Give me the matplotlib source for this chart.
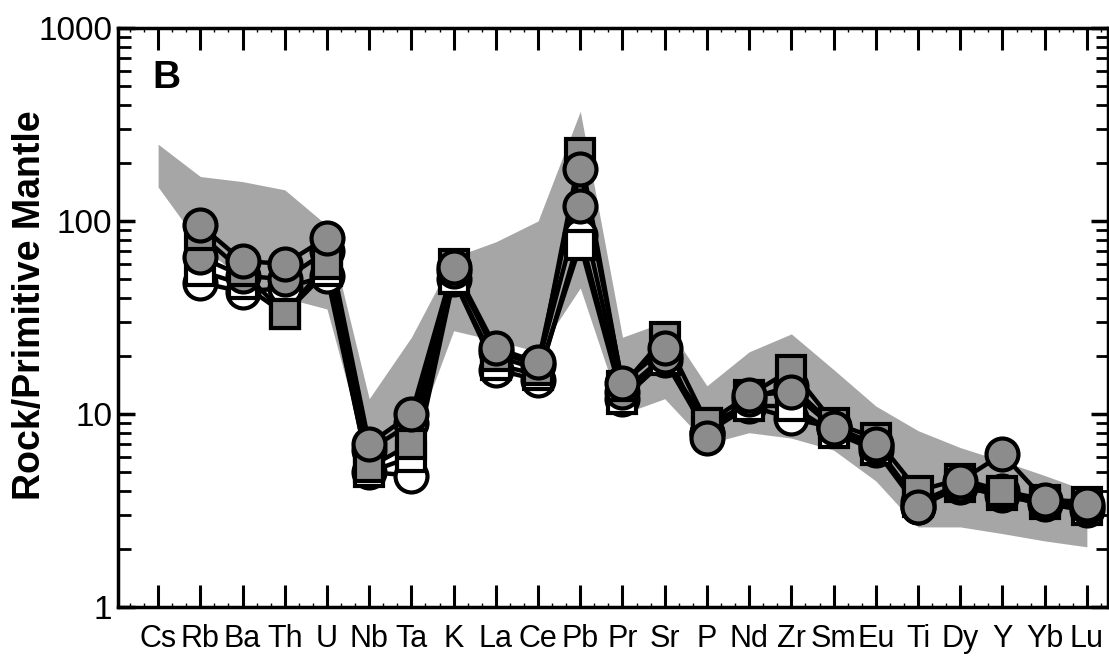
import numpy as np
import matplotlib
matplotlib.use("Agg")
import matplotlib.pyplot as plt
from matplotlib import font_manager
from matplotlib.ticker import FixedLocator, LogLocator, NullFormatter, FuncFormatter

elements = ["Cs", "Rb", "Ba", "Th", "U", "Nb", "Ta", "K", "La", "Ce", "Pb", "Pr",
            "Sr", "P", "Nd", "Zr", "Sm", "Eu", "Ti", "Dy", "Y", "Yb", "Lu"]

band_upper = [250, 170, 160, 145, 95, 12, 25, 65, 78, 100, 370, 25,
              30, 14, 21, 26, 17, 11, 8.2, 6.7, 5.7, 4.8, 4.0]
band_lower = [150, 75, 50, 40, 35, 5.5, 7, 27, 24, 21, 45, 10,
              12, 7, 8, 7.5, 6.5, 4.5, 2.6, 2.6, 2.4, 2.2, 2.05]

# samples (no Cs value)
s_filled_hi = [np.nan, 95, 62, 60, 82, 7.0, 10, 58, 22, 18.5, 185, 14.5,
               22, 7.5, 12.5, 13, 8.5, 7.0, 3.3, 4.5, 6.2, 3.6, 3.4]
s_square = [np.nan, 85, 55, 33, 60, 5.3, 7, 60, 20, 17, 225, 14,
            25, 9, 12.5, 17, 9, 7.5, 4.0, 4.6, 4.0, 3.6, 3.5]
s_filled_mid = [np.nan, 65, 52, 50, 70, 6.5, 9, 55, 21, 18, 120, 13,
                20, 8, 12, 14, 8.7, 6.8, 3.5, 4.3, 4.0, 3.5, 3.3]
s_open_sq = [np.nan, 55, 47, 33, 55, 5.0, 6, 50, 18, 16, 75, 12,
             19, 9, 11, 11, 8, 6.5, 3.5, 4.2, 3.8, 3.4, 3.2]
s_open = [np.nan, 48, 43, 45, 52, 5.0, 4.8, 50, 17, 15, 85, 12,
          19, 8, 11, 9.5, 8.5, 6.5, 3.3, 4.2, 3.8, 3.4, 3.2]

def has_font(name):
    try:
        font_manager.findfont(name, fallback_to_default=False)
        return True
    except Exception:
        return False

base = "Liberation Sans" if has_font("Liberation Sans") else "DejaVu Sans"

fig = plt.figure(figsize=(11.09, 6.61), dpi=100)
ax = fig.add_axes([118 / 1109, 1 - 607 / 661, (1108 - 118) / 1109, (607 - 28) / 661])

x = np.arange(len(elements))
ax.fill_between(x, band_lower, band_upper, color="#a6a6a6", lw=0, zorder=1)

line_kw = dict(color="black", lw=3.2, zorder=3)
ms = 23
mew = 3.0
series = [
    (s_open, "o", "white"),
    (s_open_sq, "s", "white"),
    (s_filled_mid, "o", "#8c8c8c"),
    (s_square, "s", "#8c8c8c"),
    (s_filled_hi, "o", "#8c8c8c"),
]
for vals, mk, fc in series:
    ax.plot(x, vals, **line_kw)
for k, (vals, mk, fc) in enumerate(series):
    ax.plot(x, vals, ls="none", marker=mk, ms=ms if mk == "o" else ms - 3,
            mfc=fc, mec="black", mew=mew, zorder=4 + k)

ax.set_yscale("log")
ax.set_ylim(1, 1000)
ax.set_xlim(-0.95, 22.5)

ax.xaxis.set_major_locator(FixedLocator(x))
ax.set_xticklabels(elements, fontsize=22, family=base)
ax.xaxis.set_minor_locator(FixedLocator(np.arange(-2 / 3, 22.5, 1 / 3)))
ax.tick_params(axis="x", which="major", direction="in", length=16, width=2.2,
               top=True, bottom=True, pad=12)
ax.tick_params(axis="x", which="minor", direction="in", length=3, width=1,
               top=True, bottom=True)

ax.yaxis.set_major_locator(LogLocator(base=10, numticks=10))
ax.yaxis.set_minor_locator(LogLocator(base=10, subs=np.arange(2, 10), numticks=10))
ax.yaxis.set_minor_formatter(NullFormatter())
ax.yaxis.set_major_formatter(FuncFormatter(lambda v, p: f"{v:g}"))
ax.tick_params(axis="y", which="major", direction="in", length=12, width=2.5,
               left=True, right=True, labelsize=24, pad=4)
ax.tick_params(axis="y", which="minor", direction="in", length=9, width=2.0,
               left=True, right=True)
for lab in ax.get_yticklabels():
    lab.set_family(base)

for sp in ax.spines.values():
    sp.set_linewidth(2.5)

fig.text(30 / 1109, 1 - 305 / 661, "Rock/Primitive Mantle", rotation=90,
         fontsize=27, fontweight="bold", family=base, ha="center", va="center")
ax.text(0.035, 0.945, "B", transform=ax.transAxes, fontsize=28,
        fontweight="bold", family=base, va="top", ha="left")

fig.savefig("out.png", dpi=100)
